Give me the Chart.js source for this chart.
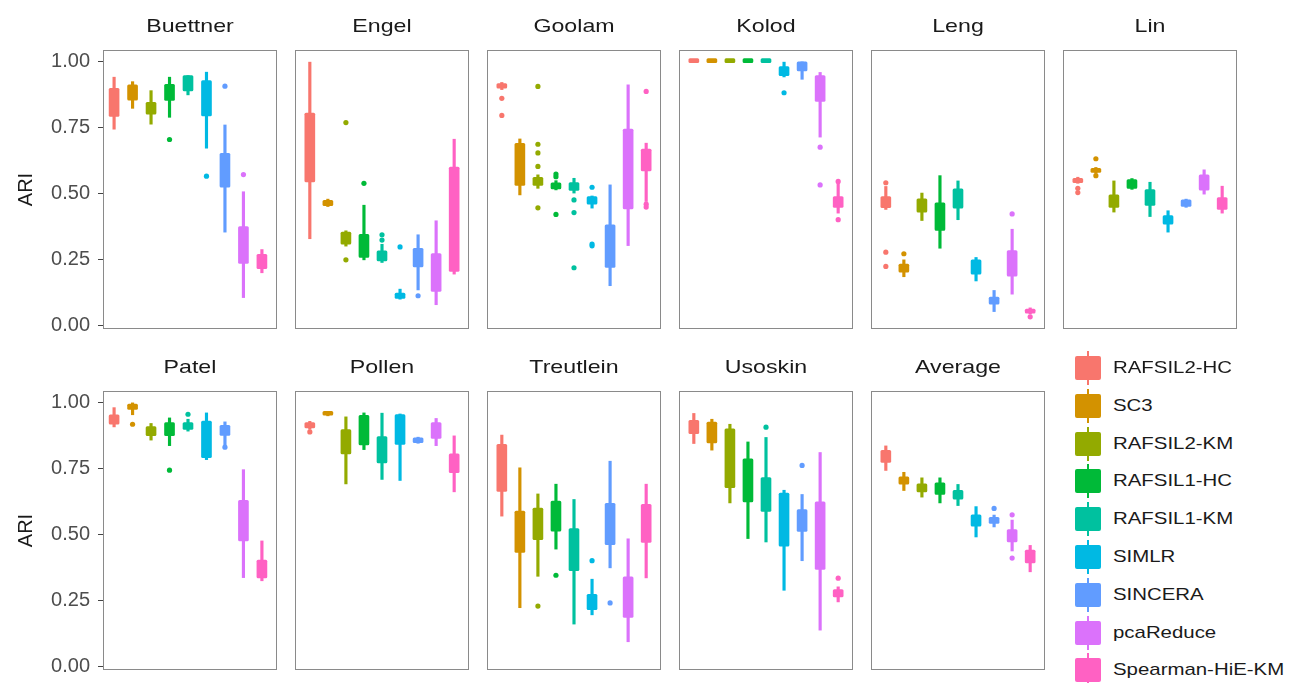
<!DOCTYPE html>
<html>
<head>
<meta charset="utf-8">
<script src="https://cdn.jsdelivr.net/npm/chart.js@4.4.1/dist/chart.umd.min.js"></script>
<style>
  body { margin:0; background:#fff; font-family:"Liberation Sans", Arial, sans-serif; }
  #wrap { position:relative; width:1292px; height:683px; overflow:hidden; }
  canvas { position:absolute; }
  .frame { position:absolute; border:1px solid #8a8a8a; box-sizing:border-box; pointer-events:none; }
  .strip { position:absolute; text-align:center; font-size:19px; color:#1a1a1a; transform:scaleX(1.22); }
  .leg { position:absolute; font-size:17px; color:#1a1a1a; transform:scaleX(1.2); transform-origin:left center; white-space:nowrap; }
  .key { position:absolute; }
</style>
</head>
<body>
<div id="wrap"></div>
<script>
const methods = ['RAFSIL2-HC','SC3','RAFSIL2-KM','RAFSIL1-HC','RAFSIL1-KM','SIMLR','SINCERA','pcaReduce','Spearman-HiE-KM'];
const colors = ['#F8766D','#D39200','#93AA00','#00BA38','#00C19F','#00B9E3','#619CFF','#DB72FB','#FF61C3'];
const yTicks = [0, 0.25, 0.5, 0.75, 1];

// each box: [lower whisker, q1, q3, upper whisker]
const buettnerBox = [[0.745,0.793,0.900,0.942],[0.824,0.855,0.913,0.925],[0.764,0.802,0.847,0.891],[0.790,0.854,0.915,0.942],[0.875,0.890,0.948,0.948],[0.673,0.795,0.929,0.961],[0.355,0.525,0.654,0.761],[0.107,0.236,0.376,0.508],[0.201,0.217,0.271,0.289]];
const buettnerOut = [[],[],[],[0.706],[],[0.567],[0.908],[0.573],[]];
const engelBox = [[0.330,0.545,0.806,0.999],[0.452,0.455,0.475,0.480],[0.302,0.309,0.355,0.360],[0.250,0.259,0.347,0.457],[0.240,0.246,0.284,0.309],[0.101,0.104,0.124,0.139],[0.136,0.223,0.294,0.345],[0.080,0.130,0.274,0.398],[0.196,0.206,0.601,0.707]];
const engelOut = [[],[],[0.770,0.250],[0.540],[0.345,0.325],[0.299],[0.114],[],[]];
const goolamBox = [[0.895,0.900,0.918,0.922],[0.496,0.532,0.691,0.708],[0.521,0.532,0.563,0.572],[0.515,0.519,0.542,0.550],[0.503,0.513,0.543,0.559],[0.446,0.461,0.490,0.492],[0.152,0.221,0.383,0.534],[0.304,0.443,0.745,0.913],[0.471,0.587,0.670,0.692]];
const goolamOut = [[0.862,0.797],[],[0.907,0.688,0.655,0.604,0.447],[0.575,0.565,0.422],[0.477,0.429,0.220],[0.525,0.310,0.303],[],[],[0.888,0.461,0.450]];
const kolodBox = [[0.997,0.997,1,1],[0.997,0.997,1,1],[0.997,0.997,1,1],[0.997,0.997,1,1],[0.997,0.997,1,1],[0.943,0.948,0.982,0.999],[0.934,0.966,1.0,1.0],[0.715,0.850,0.948,0.960],[0.427,0.449,0.490,0.540]];
const kolodOut = [[],[],[],[],[],[0.883],[],[0.677,0.534],[0.547,0.402]];
const lengBox = [[0.441,0.448,0.490,0.528],[0.186,0.203,0.234,0.250],[0.399,0.431,0.481,0.503],[0.294,0.361,0.466,0.569],[0.402,0.446,0.519,0.549],[0.170,0.196,0.250,0.259],[0.054,0.082,0.109,0.134],[0.120,0.188,0.285,0.366],[0.045,0.048,0.062,0.068]];
const lengOut = [[0.542,0.279,0.225],[0.273],[],[],[],[],[],[0.424],[0.034]];
const linBox = [[0.540,0.542,0.559,0.563],[0.578,0.581,0.597,0.600],[0.431,0.449,0.496,0.549],[0.517,0.521,0.554,0.558],[0.414,0.456,0.516,0.544],[0.355,0.385,0.418,0.436],[0.449,0.452,0.477,0.480],[0.499,0.514,0.572,0.591],[0.427,0.441,0.486,0.529]];
const linOut = [[0.521,0.505],[0.633,0.569],[],[],[],[],[],[],[]];
const patelBox = [[0.909,0.919,0.955,0.982],[0.955,0.975,0.995,1.0],[0.859,0.876,0.910,0.922],[0.838,0.876,0.925,0.943],[0.893,0.899,0.925,0.938],[0.785,0.792,0.931,0.962],[0.840,0.877,0.915,0.928],[0.338,0.477,0.631,0.747],[0.326,0.337,0.404,0.477]];
const patelOut = [[],[0.919],[],[0.745],[0.957],[],[0.832],[],[]];
const pollenBox = [[0.900,0.905,0.925,0.930],[0.951,0.953,0.961,0.963],[0.693,0.807,0.899,0.947],[0.823,0.841,0.953,0.962],[0.710,0.773,0.872,0.961],[0.706,0.843,0.956,0.958],[0.847,0.849,0.868,0.870],[0.838,0.865,0.925,0.941],[0.663,0.736,0.807,0.875]];
const pollenOut = [[0.890],[],[],[],[],[],[],[],[]];
const treutleinBox = [[0.571,0.665,0.843,0.878],[0.224,0.433,0.590,0.754],[0.343,0.482,0.601,0.655],[0.446,0.514,0.628,0.692],[0.162,0.364,0.524,0.634],[0.197,0.217,0.275,0.332],[0.375,0.463,0.619,0.779],[0.095,0.187,0.341,0.485],[0.337,0.471,0.616,0.692]];
const treutleinOut = [[],[],[0.230],[0.347],[],[0.402],[0.242],[],[]];
const usoskinBox = [[0.846,0.883,0.934,0.960],[0.821,0.848,0.927,0.938],[0.621,0.679,0.902,0.919],[0.486,0.625,0.788,0.852],[0.473,0.589,0.717,0.869],[0.290,0.457,0.658,0.669],[0.402,0.513,0.596,0.653],[0.139,0.369,0.625,0.812],[0.246,0.265,0.293,0.303]];
const usoskinOut = [[],[],[],[],[0.908],[],[0.763],[],[0.336]];
const averageBox = [[0.744,0.774,0.820,0.837],[0.668,0.692,0.720,0.737],[0.643,0.663,0.693,0.716],[0.621,0.653,0.697,0.716],[0.611,0.635,0.669,0.691],[0.492,0.533,0.576,0.607],[0.530,0.543,0.566,0.575],[0.439,0.473,0.520,0.556],[0.360,0.394,0.442,0.460]];
const averageOut = [[],[],[],[],[],[],[0.600],[0.576,0.412],[]];

const panels = [
  ['Buettner', buettnerBox, buettnerOut], ['Engel', engelBox, engelOut], ['Goolam', goolamBox, goolamOut],
  ['Kolod', kolodBox, kolodOut], ['Leng', lengBox, lengOut], ['Lin', linBox, linOut],
  ['Patel', patelBox, patelOut], ['Pollen', pollenBox, pollenOut], ['Treutlein', treutleinBox, treutleinOut],
  ['Usoskin', usoskinBox, usoskinOut], ['Average', averageBox, averageOut]
];

const wrap = document.getElementById('wrap');
const PW = 174, PH = 279, PAD = 20, LEFT0 = 103;
const rowTop = [50, 391];

panels.forEach((p, k) => {
  const row = k < 6 ? 0 : 1, col = k < 6 ? k : k - 6;
  const px = LEFT0 + col * 192, py = rowTop[row];
  const first = col === 0;

  const cv = document.createElement('canvas');
  const cx = first ? 0 : px;
  cv.style.left = cx + 'px';
  cv.style.top = (py - PAD) + 'px';
  cv.style.width = (px + PW - cx) + 'px';
  cv.style.height = (PH + 2 * PAD) + 'px';
  cv.width = px + PW - cx; cv.height = PH + 2 * PAD;
  wrap.appendChild(cv);

  const fr = document.createElement('div');
  fr.className = 'frame';
  fr.style.cssText = `left:${px}px;top:${py}px;width:${PW}px;height:${PH}px`;
  wrap.appendChild(fr);

  const st = document.createElement('div');
  st.className = 'strip';
  st.textContent = p[0];
  st.style.cssText = `left:${px}px;top:${py - 35}px;width:${PW}px`;
  wrap.appendChild(st);

  const boxes = p[1], outs = p[2];
  const whisk = boxes.map((b, i) => ({ x: i + 1, y: [b[0], b[3]] }));
  const body = boxes.map((b, i) => ({ x: i + 1, y: [b[1], b[2]] }));
  const pts = [], ptCol = [];
  outs.forEach((o, i) => o.forEach(v => { pts.push({ x: i + 1, y: v }); ptCol.push(colors[i]); }));

  new Chart(cv, {
    type: 'bar',
    data: {
      datasets: [
        { data: whisk, backgroundColor: colors, barThickness: 2.5, grouped: false, order: 3 },
        { data: body, backgroundColor: colors, barThickness: 10, minBarLength: 4, grouped: false,
          borderRadius: 1.5, borderSkipped: false, order: 2 },
        { type: 'scatter', data: pts, backgroundColor: ptCol, borderWidth: 0, pointRadius: 2.6, order: 1 }
      ]
    },
    options: {
      responsive: false, animation: false,
      layout: { padding: { top: PAD, bottom: PAD, left: 0, right: 0 } },
      plugins: { legend: { display: false }, tooltip: { enabled: false } },
      scales: {
        x: { type: 'linear', min: 0.4, max: 9.6, display: false, offset: false, grid: { offset: false } },
        y: {
          min: -0.012, max: 1.045, display: first,
          afterFit: s => { if (first) s.width = LEFT0; },
          afterBuildTicks: s => { s.ticks = yTicks.map(v => ({ value: v })); },
          grid: { drawOnChartArea: false, tickLength: 5, tickColor: '#444', tickWidth: 1 },
          border: { display: false },
          ticks: { font: { size: 20, family: 'Liberation Sans' }, color: '#4d4d4d', padding: 8,
                   callback: v => v.toFixed(2) },
          title: { display: true, text: 'ARI', font: { size: 20, family: 'Liberation Sans' }, color: '#1a1a1a',
                   padding: { top: 14, bottom: 0 } }
        }
      }
    }
  });
});

// legend
methods.forEach((m, i) => {
  const cy = 368 + i * 37.8;
  const line = document.createElement('div');
  line.className = 'key';
  line.style.cssText = `left:${1087}px;top:${cy - 17}px;width:2px;height:34px;background:${colors[i]}`;
  wrap.appendChild(line);
  const box = document.createElement('div');
  box.className = 'key';
  box.style.cssText = `left:${1075}px;top:${cy - 12}px;width:26px;height:24px;background:${colors[i]};border-radius:2px`;
  wrap.appendChild(box);
  const t = document.createElement('div');
  t.className = 'leg';
  t.textContent = m;
  t.style.cssText = `left:1113px;top:${cy - 10}px`;
  wrap.appendChild(t);
});
</script>
</body>
</html>
